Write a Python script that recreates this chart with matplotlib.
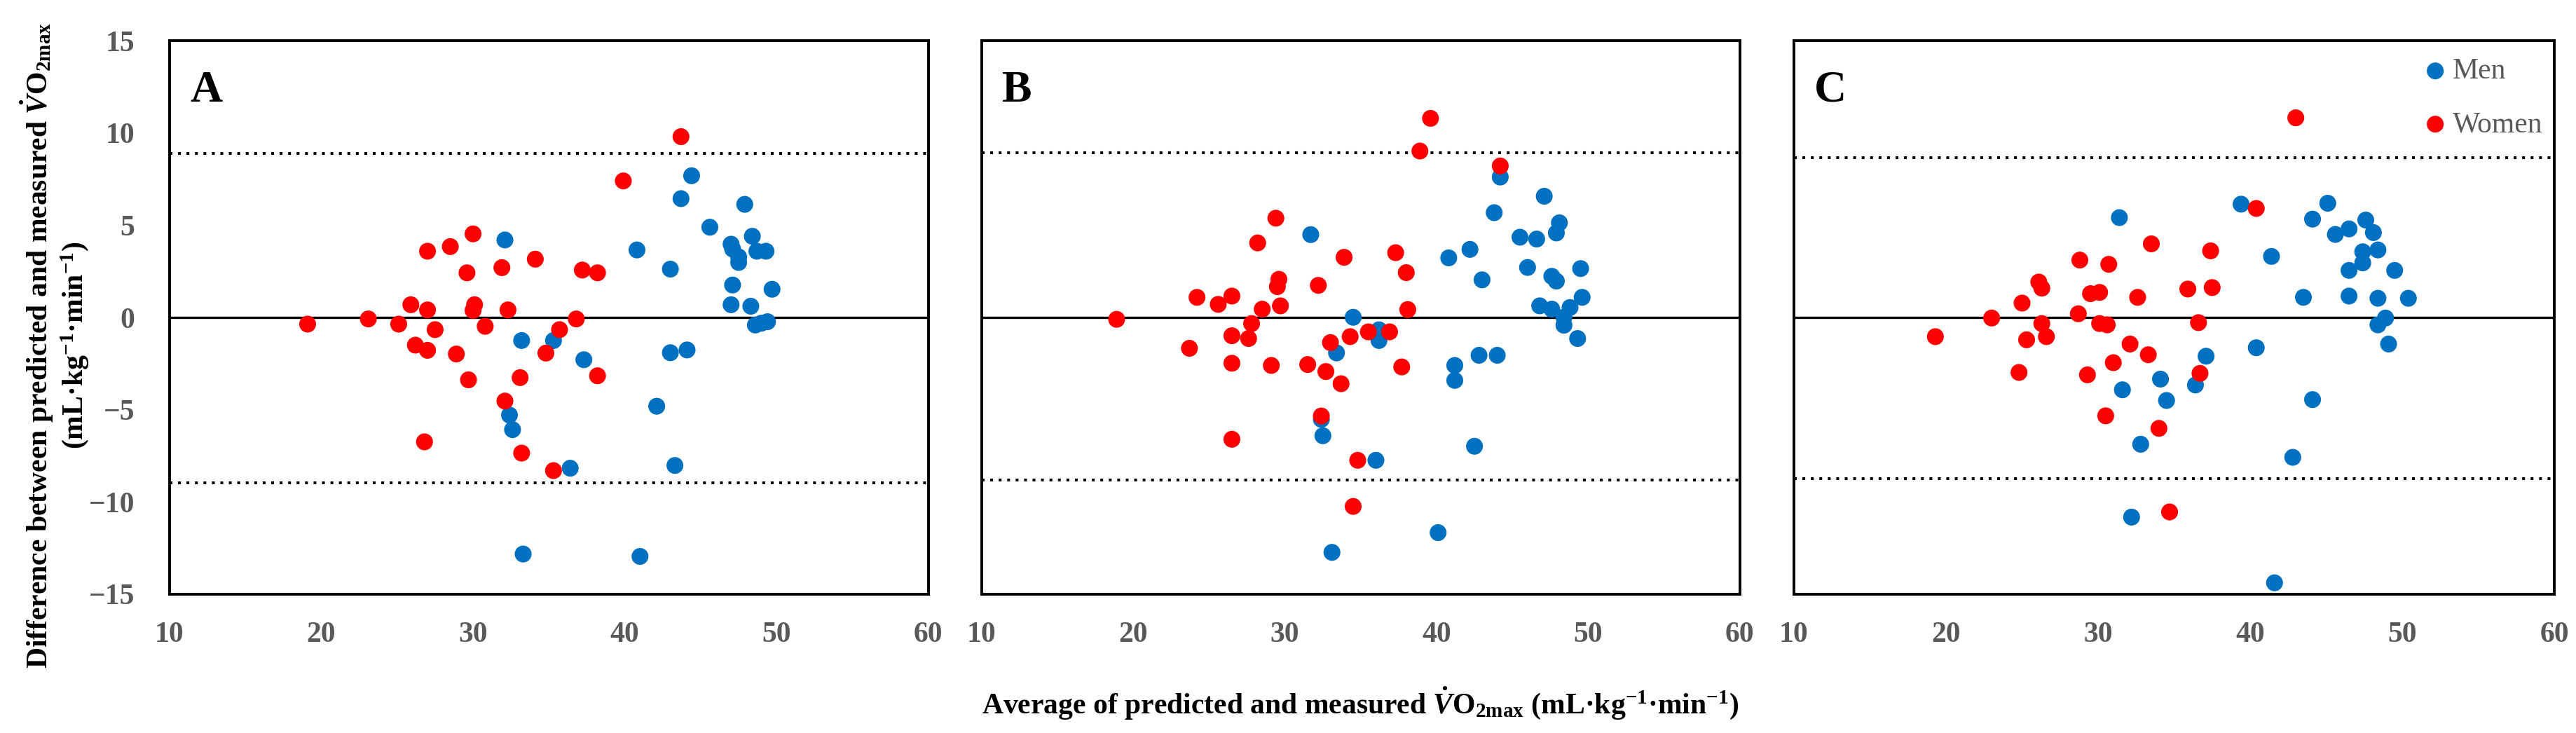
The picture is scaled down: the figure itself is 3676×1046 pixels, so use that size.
import numpy as np
import matplotlib
matplotlib.use("Agg")
import matplotlib.pyplot as plt

# ==========================================================
# DATA
# ==========================================================

# Panel A
a_women_x = [19.1, 23.1, 25.1, 25.9, 26.2, 27.0, 27.0, 27.0, 26.8, 27.5, 28.5,
             28.9, 29.6, 29.7, 30.0, 30.1, 30.0, 30.8, 31.9, 32.1, 32.3, 33.1,
             33.2, 34.1, 34.8, 35.3, 35.7, 36.8, 37.2, 38.2, 38.2, 39.9, 43.7]
a_women_y = [-0.36, -0.08, -0.36, 0.69, -1.5, 3.59, 0.41, -1.78, -6.74, -0.66,
             3.84, -1.98, 2.42, -3.38, 4.53, 0.69, 0.38, -0.48, 2.70, -4.53,
             0.41, -3.26, -7.35, 3.16, -1.93, -8.30, -0.66, -0.08, 2.57, 2.42,
             -3.16, 7.40, 9.80]
a_men_x = [32.1, 33.2, 32.4, 32.6, 33.3, 35.3, 36.4, 37.3, 40.8, 41.0, 42.1,
           43.0, 43.0, 43.3, 43.7, 44.1, 44.4, 45.6, 47.0, 47.1, 47.5, 47.5,
           47.1, 47.0, 47.9, 48.4, 48.7, 49.3, 49.7, 48.3, 48.6, 49.0, 49.4]
a_men_y = [4.20, -1.25, -5.29, -6.08, -12.82, -1.25, -8.17, -2.29, 3.66,
           -12.95, -4.81, 2.62, -1.91, -8.02, 6.44, -1.76, 7.68, 4.89, 3.97,
           3.71, 3.28, 2.98, 1.76, 0.69, 6.13, 4.40, 3.59, 3.59, 1.53, 0.61,
           -0.41, -0.31, -0.23]
a_limits = [8.9, -8.95]

# Panel B
b_women_x = [18.9, 23.7, 24.2, 25.6, 26.5, 26.5, 26.5, 26.5, 27.6, 27.8, 28.5,
             28.2, 29.1, 29.4, 29.6, 29.5, 29.7, 31.5, 32.2, 32.4, 32.7, 33.0,
             33.7, 33.9, 34.3, 34.5, 34.8, 35.5, 36.9, 37.3, 38.0, 38.1, 37.7,
             38.9, 39.6, 44.2]
b_women_y = [-0.10, -1.67, 1.09, 0.71, 1.16, -0.99, -2.48, -6.60, -1.14, -0.33,
             0.45, 4.04, -2.60, 5.38, 2.07, 1.67, 0.63, -2.55, 1.74, -5.34,
             -2.93, -1.36, -3.59, 3.26, -1.04, -10.24, -7.74, -0.78, -0.78,
             3.51, 2.43, 0.43, -2.68, 9.02, 10.79, 8.21]
b_men_x = [31.7, 32.4, 32.5, 33.1, 33.4, 34.5, 36.2, 36.2, 36.0, 40.1, 40.8,
           41.2, 41.2, 42.2, 42.5, 42.8, 43.0, 43.8, 44.0, 44.2, 45.5, 46.0,
           46.6, 46.8, 47.1, 47.6, 47.9, 47.6, 48.1, 47.9, 48.4, 48.4, 48.8,
           49.3, 49.5, 49.6]
b_men_y = [4.49, -5.52, -6.41, -12.73, -1.92, 0.01, -0.67, -1.25, -7.74,
           -11.66, 3.23, -2.60, -3.41, 3.69, -6.98, -2.05, 2.04, 5.68, -2.05,
           7.61, 4.35, 2.71, 4.25, 0.63, 6.57, 2.23, 1.97, 0.45, 5.13, 4.58,
           0.01, -0.42, 0.54, -1.14, 2.65, 1.09]
b_limits = [8.92, -8.8]

# Panel C
c_women_x = [19.3, 23.0, 24.8, 25.0, 25.3, 26.1, 26.3, 26.3, 26.6, 28.7, 28.8,
             29.3, 29.5, 30.1, 30.1, 30.6, 30.7, 30.5, 31.0, 32.1, 32.6, 33.3,
             33.5, 34.0, 34.7, 35.9, 36.6, 36.7, 37.4, 37.5, 40.4, 43.0]
c_women_y = [-1.04, -0.03, -2.98, 0.78, -1.21, 1.92, 1.59, -0.33, -1.04, 0.20,
             3.11, -3.11, 1.29, 1.36, -0.33, -0.40, 2.88, -5.33, -2.45, -1.44,
             1.09, -2.02, 3.99, -6.01, -10.54, 1.54, -0.28, -3.03, 3.61, 1.62,
             5.91, 10.82]
c_men_x = [31.4, 31.6, 32.2, 32.8, 34.1, 34.5, 36.4, 37.1, 39.4, 40.4, 41.4,
           41.6, 42.8, 43.5, 44.1, 44.1, 45.1, 45.6, 46.5, 46.5, 46.5, 47.4,
           47.4, 47.6, 48.1, 48.4, 48.4, 48.9, 48.4, 49.1, 49.5, 50.4]
c_men_y = [5.41, -3.92, -10.82, -6.87, -3.34, -4.50, -3.66, -2.10, 6.14,
           -1.64, 3.31, -14.38, -7.58, 1.09, 5.33, -4.45, 6.19, 4.50, 4.80,
           2.55, 1.16, 3.56, 2.96, 5.28, 4.60, 3.66, 1.04, -0.03, -0.40, -1.44,
           2.55, 1.04]
c_limits = [8.67, -8.72]

panel_labels = ["A", "B", "C"]
x_ticks = [10, 20, 30, 40, 50, 60]
y_ticks = [-15, -10, -5, 0, 5, 10, 15]

# ==========================================================
# STYLE
# ==========================================================

plt.rcParams["font.family"] = ["Liberation Serif", "DejaVu Serif"]
plt.rcParams["mathtext.fontset"] = "custom"
plt.rcParams["mathtext.rm"] = "Liberation Serif:bold"
plt.rcParams["mathtext.it"] = "Liberation Serif:italic:bold"
plt.rcParams["mathtext.bf"] = "Liberation Serif:bold"

men_color = "#0070C0"
women_color = "#FF0000"
tick_color = "#595959"

fig = plt.figure(figsize=(36.76, 10.46), dpi=100)

panel_rects = [
    [0.0658, 0.1893, 0.2946, 0.7552],
    [0.3811, 0.1893, 0.2943, 0.7552],
    [0.6964, 0.1893, 0.2952, 0.7552],
]

panels = [
    (a_men_x, a_men_y, a_women_x, a_women_y, a_limits),
    (b_men_x, b_men_y, b_women_x, b_women_y, b_limits),
    (c_men_x, c_men_y, c_women_x, c_women_y, c_limits),
]

# ==========================================================
# PANELS
# ==========================================================

for i, (rect, data) in enumerate(zip(panel_rects, panels)):
    mx, my, wx, wy, limits = data
    ax = fig.add_axes(rect)

    ax.axhline(0, color="black", lw=2.4, zorder=2)
    for lim in limits:
        ax.axhline(lim, color="black", lw=2.9, linestyle=(0, (1, 2)), zorder=2)

    ax.scatter(mx, my, s=300, color=men_color, edgecolors="none",
               label="Men", zorder=3)
    ax.scatter(wx, wy, s=300, color=women_color, edgecolors="none",
               label="Women", zorder=4)

    ax.set_xlim(10, 60)
    ax.set_ylim(-15, 15)
    ax.set_xticks(x_ticks)
    ax.set_yticks(y_ticks)
    ax.tick_params(length=0, labelsize=30, labelcolor=tick_color)
    ax.tick_params(axis="x", pad=28)
    ax.tick_params(axis="y", pad=36)
    for lbl in ax.get_xticklabels() + ax.get_yticklabels():
        lbl.set_fontweight("bold")
    if i > 0:
        ax.tick_params(axis="y", labelleft=False)

    for spine in ax.spines.values():
        spine.set_linewidth(2.8)
        spine.set_color("black")

    ax.text(0.027, 0.89, panel_labels[i], transform=ax.transAxes,
            fontsize=46, fontweight="bold", va="baseline", ha="left")

    if i == 2:
        ax.legend(loc="upper left", bbox_to_anchor=(0.805, 0.99),
                  frameon=False, fontsize=30, labelcolor=tick_color,
                  handletextpad=0.0, labelspacing=0.9, borderaxespad=0,
                  handlelength=1.2)

# ==========================================================
# AXIS TITLES
# ==========================================================

fig.text(0.0212, 0.529,
         "Difference between predicted and measured "
         r"$\dot{V}\mathrm{O}_{\mathrm{2max}}$" "\n"
         r"(mL·kg$^{-1}$·min$^{-1}$)",
         rotation=90, ha="center", va="center", multialignment="center",
         fontsize=30, fontweight="bold", linespacing=1.15)

fig.text(0.528, 0.041,
         "Average of predicted and measured "
         r"$\dot{V}\mathrm{O}_{\mathrm{2max}}$"
         r" (mL·kg$^{-1}$·min$^{-1}$)",
         ha="center", va="center", fontsize=30, fontweight="bold")

plt.savefig("out.png", dpi=100)
